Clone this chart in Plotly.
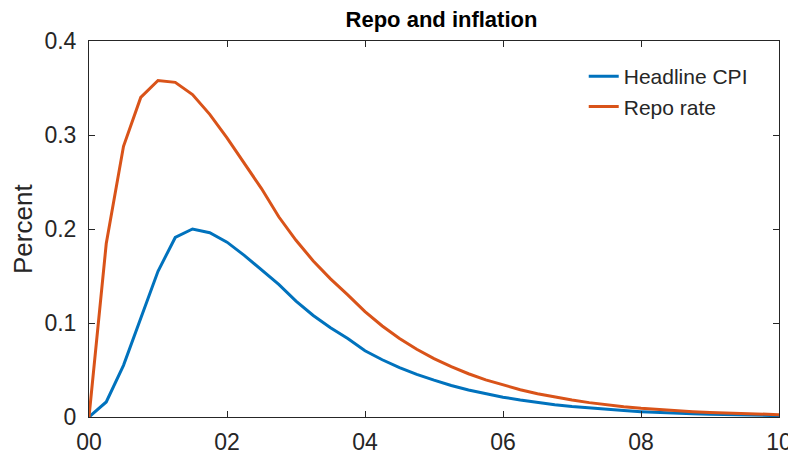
import plotly.graph_objects as go

quarters = list(range(41))
tick_vals = [0, 8, 16, 24, 32, 40]
tick_labels = ["00", "02", "04", "06", "08", "10"]

headline_cpi = [0.0, 0.016, 0.055, 0.106, 0.155, 0.191, 0.200, 0.196, 0.186, 0.172,
                0.157, 0.141, 0.1233, 0.108, 0.095, 0.0835, 0.0705, 0.0609, 0.0526, 0.0454,
                0.0392, 0.0335, 0.0288, 0.0247, 0.0211, 0.018, 0.0154, 0.0131, 0.0111, 0.0094,
                0.008, 0.0068, 0.0057, 0.0048, 0.0041, 0.0034, 0.0029, 0.0024, 0.002, 0.0017, 0.0014]
repo_rate = [0.0, 0.1845, 0.288, 0.340, 0.358, 0.356, 0.343, 0.322, 0.297, 0.270,
             0.243, 0.213, 0.188, 0.166, 0.147, 0.130, 0.1122, 0.0968, 0.0835, 0.072,
             0.0621, 0.0535, 0.046, 0.0395, 0.034, 0.029, 0.0248, 0.0212, 0.018, 0.0153,
             0.013, 0.011, 0.0093, 0.0079, 0.0067, 0.0057, 0.0048, 0.0041, 0.0035, 0.003, 0.0025]

FONT = "Liberation Sans, Arial, Helvetica, sans-serif"
AX = "#262626"

# page has an 8px body margin; figure sized to fit the 796x459 window
W, H = 788, 451

fig = go.Figure()
fig.add_trace(go.Scatter(x=quarters, y=headline_cpi, mode="lines", name="Headline CPI",
                         line=dict(color="#0072BD", width=3)))
fig.add_trace(go.Scatter(x=quarters, y=repo_rate, mode="lines", name="Repo rate",
                         line=dict(color="#D95319", width=3)))

fig.update_layout(
    width=W, height=H,
    margin=dict(l=81, r=17, t=33, b=42, autoexpand=False),
    paper_bgcolor="white", plot_bgcolor="white",
    font=dict(family=FONT, color=AX, size=22),
    title=dict(text="<b>Repo and inflation</b>", x=0.5 + 7.5 / 690, xref="paper", xanchor="center",
               y=1 - 11 / H, yref="container", yanchor="middle",
               font=dict(size=22, color="black", family=FONT)),
    showlegend=True,
    legend=dict(x=0.717, y=0.96, xanchor="left", yanchor="top",
                bgcolor="rgba(0,0,0,0)", borderwidth=0,
                font=dict(size=21, color=AX, family=FONT), tracegroupgap=0),
    xaxis=dict(range=[0, 40], tickmode="array", tickvals=tick_vals, ticktext=tick_labels,
               showgrid=False, zeroline=False, showline=True, linecolor=AX, linewidth=1,
               mirror="ticks", ticks="inside", ticklen=6, tickcolor=AX, automargin=False,
               ticklabelstandoff=4,
               tickfont=dict(size=23, color=AX)),
    yaxis=dict(range=[0, 0.4], tickmode="array", tickvals=[0, 0.1, 0.2, 0.3, 0.4],
               ticktext=["0", "0.1", "0.2", "0.3", "0.4"],
               showgrid=False, zeroline=False, showline=True, linecolor=AX, linewidth=1,
               mirror="ticks", ticks="inside", ticklen=6, tickcolor=AX, automargin=False,
               ticklabelstandoff=7,
               tickfont=dict(size=23, color=AX)),
    annotations=[dict(text="Percent", xref="paper", yref="paper", x=(23 - 89) / 690, y=0.5,
                      xanchor="center", yanchor="middle", textangle=-90, showarrow=False,
                      font=dict(size=26, color=AX, family=FONT))],
)

fig.write_html("out.html")
